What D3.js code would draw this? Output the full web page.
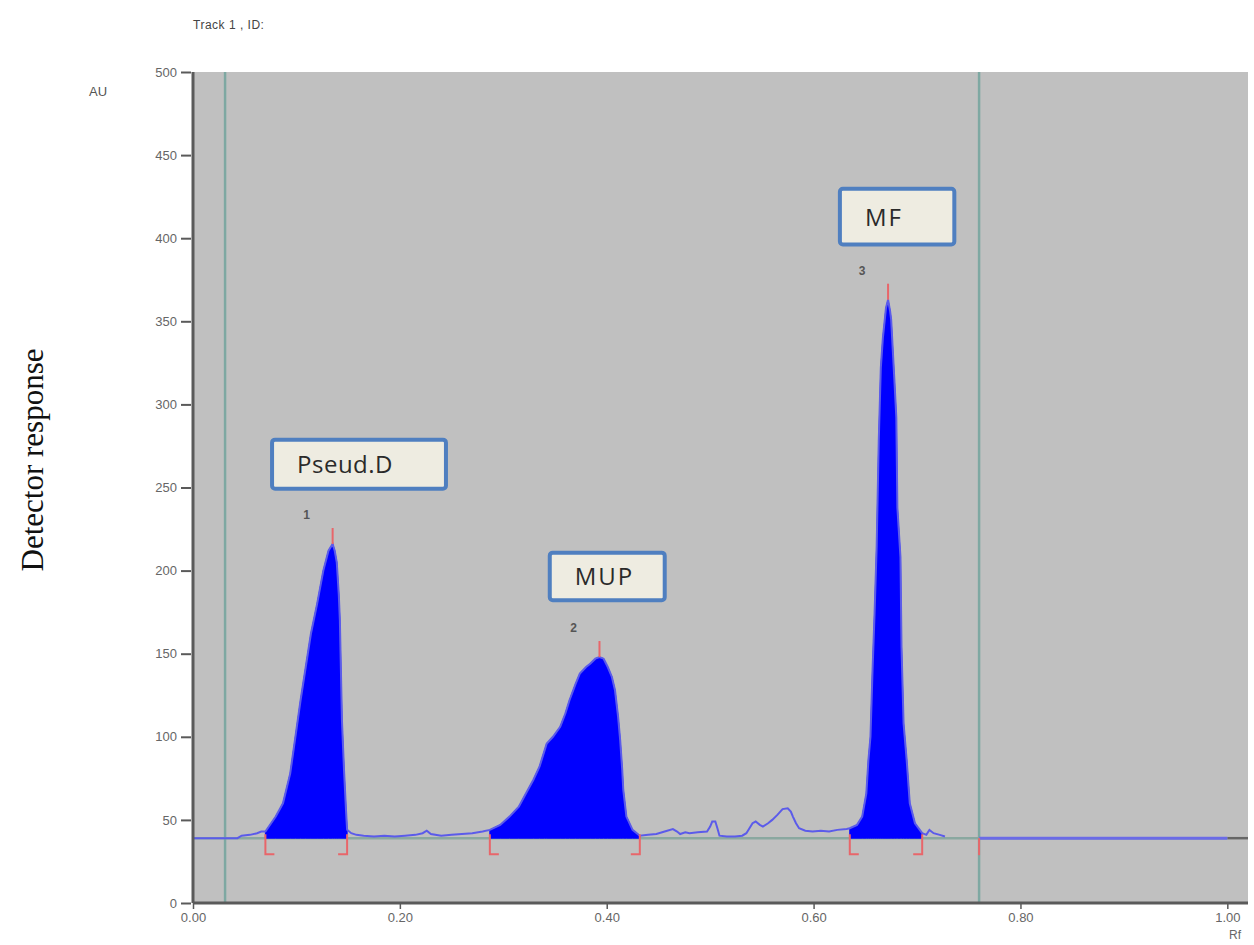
<!DOCTYPE html>
<html>
<head>
<meta charset="utf-8">
<script src="https://cdnjs.cloudflare.com/ajax/libs/d3/7.8.5/d3.min.js"></script>
<style>
  body { margin: 0; background: #fff; }
  svg { display: block; }
  .axis text { font-family: "Liberation Sans", Arial, sans-serif; font-size: 13px; fill: #666; }
  .axis path, .axis line { stroke: #5a5a5a; }
</style>
</head>
<body>
<script>
// densitogram, track 1 : [Rf, AU]
var profile = [
  [0.000, 39], [0.043, 39], [0.047, 40.5], [0.055, 41], [0.062, 42], [0.066, 43],
  // peak 1
  [0.070, 43], [0.080, 52], [0.087, 60], [0.094, 78], [0.099, 100], [0.104, 122],
  [0.109, 142], [0.114, 162], [0.120, 180], [0.126, 200], [0.131, 212], [0.135, 216],
  [0.137, 212], [0.139, 205], [0.141, 185], [0.142, 170], [0.143, 140], [0.144, 110],
  [0.146, 80], [0.148, 55], [0.149, 44],
  [0.153, 42], [0.158, 41], [0.165, 40.5], [0.175, 40], [0.185, 40.5], [0.195, 40],
  [0.205, 40.5], [0.215, 41], [0.222, 42], [0.226, 43.5], [0.230, 41.5], [0.240, 40.5],
  [0.250, 41], [0.260, 41.5], [0.270, 42], [0.280, 43],
  // peak 2
  [0.287, 44], [0.297, 47], [0.306, 52], [0.315, 58], [0.322, 66], [0.329, 74],
  [0.335, 82], [0.340, 92], [0.342, 96], [0.348, 100], [0.355, 106], [0.360, 114],
  [0.364, 122], [0.370, 132], [0.374, 138], [0.380, 142], [0.384, 144], [0.389, 147],
  [0.393, 148], [0.397, 147], [0.401, 142], [0.405, 136], [0.408, 128], [0.411, 112],
  [0.413, 98], [0.415, 80], [0.416, 68], [0.419, 52], [0.425, 44], [0.432, 40.5],
  [0.440, 41], [0.448, 41.5], [0.456, 43], [0.464, 44.5], [0.468, 43], [0.471, 41.5],
  [0.476, 42.5], [0.480, 42], [0.488, 42.5], [0.497, 43], [0.500, 46], [0.502, 49],
  [0.505, 49], [0.507, 45], [0.509, 40.5], [0.516, 40], [0.524, 40], [0.531, 40.5],
  [0.535, 42], [0.538, 45], [0.541, 48], [0.544, 49], [0.548, 47], [0.551, 46],
  [0.556, 48], [0.560, 50], [0.565, 53], [0.570, 56.5], [0.575, 57], [0.578, 55],
  [0.580, 52], [0.583, 48], [0.586, 45], [0.592, 43.5], [0.599, 43], [0.607, 43.5],
  [0.615, 43], [0.623, 44], [0.632, 44.5],
  // peak 3
  [0.635, 45], [0.642, 47], [0.647, 52], [0.651, 66], [0.653, 86], [0.655, 100],
  [0.657, 140], [0.659, 175], [0.661, 215], [0.663, 278], [0.665, 322], [0.667, 340],
  [0.670, 358], [0.672, 363], [0.674, 356], [0.675, 351], [0.678, 316], [0.680, 292],
  [0.681, 238], [0.684, 208], [0.685, 154], [0.687, 108], [0.690, 86], [0.693, 60],
  [0.698, 48], [0.705, 42],
  [0.709, 41], [0.712, 44], [0.716, 42], [0.722, 41], [0.727, 40]
];

// flat part of the scan after the solvent front
var tail = [[0.760, 39], [1.000, 39]];

var baselineAU = 39;

// integrated peaks: number, start Rf, max Rf, max AU, end Rf
var peakNo    = [1, 2, 3];
var peakStart = [0.070, 0.287, 0.635];
var peakMax   = [0.135, 0.393, 0.672];
var peakTop   = [216, 148, 363];
var peakEnd   = [0.149, 0.432, 0.705];

// application start and solvent front
var trackLines = [0.031, 0.760];

// annotation boxes [Rf left, Rf right, AU top, AU bottom]
var boxNames = ["Pseud.D", "MUP", "MF"];
var boxRf    = [[0.0745, 0.2465], [0.343, 0.458], [0.6235, 0.738]];
var boxAU    = [[280, 248], [212, 181], [431, 395]];

var xTicks = [0, 0.2, 0.4, 0.6, 0.8, 1.0];
var yTicks = [0, 50, 100, 150, 200, 250, 300, 350, 400, 450, 500];

var margin = {top: 72, right: 6, bottom: 42, left: 193};
var W = 1254, H = 945;
var width = W - margin.left - margin.right;
var height = H - margin.top - margin.bottom;

var svg = d3.select("body").append("svg")
  .attr("width", W)
  .attr("height", H);

var g = svg.append("g")
  .attr("transform", "translate(" + margin.left + "," + margin.top + ")");

var x = d3.scaleLinear().domain([0, 1.02]).range([0, width]);
var y = d3.scaleLinear().domain([0, 500]).range([height, 0]);

// plot background
g.append("rect")
  .attr("width", width)
  .attr("height", height)
  .attr("fill", "#c0c0c0");

// baseline
g.append("line")
  .attr("x1", x(0)).attr("x2", x(1.0))
  .attr("y1", y(baselineAU)).attr("y2", y(baselineAU))
  .attr("stroke", "#8aa8a0").attr("stroke-width", 2.5);
g.append("line")
  .attr("x1", x(1.0)).attr("x2", x(1.02))
  .attr("y1", y(baselineAU)).attr("y2", y(baselineAU))
  .attr("stroke", "#666").attr("stroke-width", 2.5);

// track lines
g.selectAll(".track")
  .data(trackLines)
  .enter().append("line")
  .attr("class", "track")
  .attr("x1", function(d){ return x(d); })
  .attr("x2", function(d){ return x(d); })
  .attr("y1", 0).attr("y2", height)
  .attr("stroke", "#7ea8a2").attr("stroke-width", 2.5);

// filled peak areas
var area = d3.area()
  .x(function(d){ return x(d[0]); })
  .y0(y(baselineAU))
  .y1(function(d){ return y(d[1]); });

peakNo.forEach(function(n, i) {
  var pts = profile.filter(function(d){ return d[0] >= peakStart[i] && d[0] <= peakEnd[i]; });
  g.append("path")
    .datum(pts)
    .attr("d", area)
    .attr("fill", "#0000ff")
    .attr("stroke", "#0000ff")
    .attr("stroke-width", 1);
});

// scan line
var line = d3.line()
  .x(function(d){ return x(d[0]); })
  .y(function(d){ return y(d[1]); });

g.append("path")
  .datum(profile)
  .attr("d", line)
  .attr("fill", "none")
  .attr("stroke", "#5b5bea")
  .attr("stroke-width", 2);

g.append("path")
  .datum(tail)
  .attr("d", line)
  .attr("fill", "none")
  .attr("stroke", "#6b6be6")
  .attr("stroke-width", 3);

// peak markers
var red = "#e8666a";
peakNo.forEach(function(n, i) {
  var by = y(baselineAU);
  // top tick
  g.append("line")
    .attr("x1", x(peakMax[i])).attr("x2", x(peakMax[i]))
    .attr("y1", y(peakTop[i]) - 16).attr("y2", y(peakTop[i]))
    .attr("stroke", red).attr("stroke-width", 2);
  // start bracket
  g.append("path")
    .attr("d", "M" + x(peakStart[i]) + "," + (by - 4) + "V" + (by + 16) + "h9")
    .attr("fill", "none").attr("stroke", red).attr("stroke-width", 2);
  // end bracket
  g.append("path")
    .attr("d", "M" + x(peakEnd[i]) + "," + (by - 4) + "V" + (by + 16) + "h-9")
    .attr("fill", "none").attr("stroke", red).attr("stroke-width", 2);
  // peak number
  g.append("text")
    .attr("x", x(peakMax[i]) - 26)
    .attr("y", y(peakTop[i]) - 25)
    .attr("text-anchor", "middle")
    .attr("font-family", "Liberation Sans, Arial, sans-serif")
    .attr("font-size", 12)
    .attr("font-weight", "bold")
    .attr("fill", "#555")
    .text(n);
});

// solvent front marker
g.append("line")
  .attr("x1", x(trackLines[1])).attr("x2", x(trackLines[1]))
  .attr("y1", y(baselineAU)).attr("y2", y(baselineAU) + 17)
  .attr("stroke", red).attr("stroke-width", 2);

// axes
var xAxis = d3.axisBottom(x).tickValues(xTicks).tickSize(6).tickPadding(4).tickFormat(d3.format(".2f"));
var yAxis = d3.axisLeft(y).tickValues(yTicks).tickSize(12).tickPadding(4).tickFormat(d3.format("d"));

var xAxisGroup = g.append("g")
  .attr("class", "axis")
  .attr("transform", "translate(0," + height + ")")
  .call(xAxis);
var yAxisGroup = g.append("g")
  .attr("class", "axis")
  .call(yAxis);

xAxisGroup.select(".domain").attr("stroke-width", 3).attr("d", "M0,0H" + width);
yAxisGroup.select(".domain").attr("stroke-width", 3).attr("d", "M0,0V" + height);
xAxisGroup.selectAll(".tick line").attr("stroke-width", 1.5);
yAxisGroup.selectAll(".tick line").attr("stroke-width", 2).attr("x2", -12).attr("x1", -2);

// annotation boxes
boxNames.forEach(function(name, i) {
  var x0 = x(boxRf[i][0]), x1 = x(boxRf[i][1]);
  var y0 = y(boxAU[i][0]), y1 = y(boxAU[i][1]);
  g.append("rect")
    .attr("x", x0 + 2).attr("y", y0 + 2)
    .attr("width", x1 - x0 - 4).attr("height", y1 - y0 - 4)
    .attr("rx", 3)
    .attr("fill", "#eeece1")
    .attr("stroke", "#4f7fc0")
    .attr("stroke-width", 4);
  g.append("text")
    .attr("x", x0 + 27)
    .attr("y", (y0 + y1) / 2 + 9)
    .attr("font-family", "Open Sans, sans-serif")
    .attr("font-size", 24)
    .attr("letter-spacing", name === "Pseud.D" ? 0.5 : 2)
    .attr("fill", "#2a2a2a")
    .text(name);
});

// titles
svg.append("text")
  .attr("x", 193).attr("y", 29)
  .attr("font-family", "Liberation Sans, Arial, sans-serif")
  .attr("font-size", 12)
  .attr("fill", "#444")
  .attr("letter-spacing", 0.5)
  .text("Track  1 , ID:");

svg.append("text")
  .attr("x", 89).attr("y", 96)
  .attr("font-family", "Liberation Sans, Arial, sans-serif")
  .attr("font-size", 13)
  .attr("fill", "#555")
  .text("AU");

svg.append("text")
  .attr("x", 1229).attr("y", 939)
  .attr("font-family", "Liberation Sans, Arial, sans-serif")
  .attr("font-size", 12)
  .attr("fill", "#666")
  .text("Rf");

svg.append("text")
  .attr("transform", "translate(43,460) rotate(-90)")
  .attr("text-anchor", "middle")
  .attr("font-family", "Liberation Serif, Times New Roman, serif")
  .attr("font-size", 31)
  .attr("fill", "#111")
  .text("Detector response");
</script>
</body>
</html>
